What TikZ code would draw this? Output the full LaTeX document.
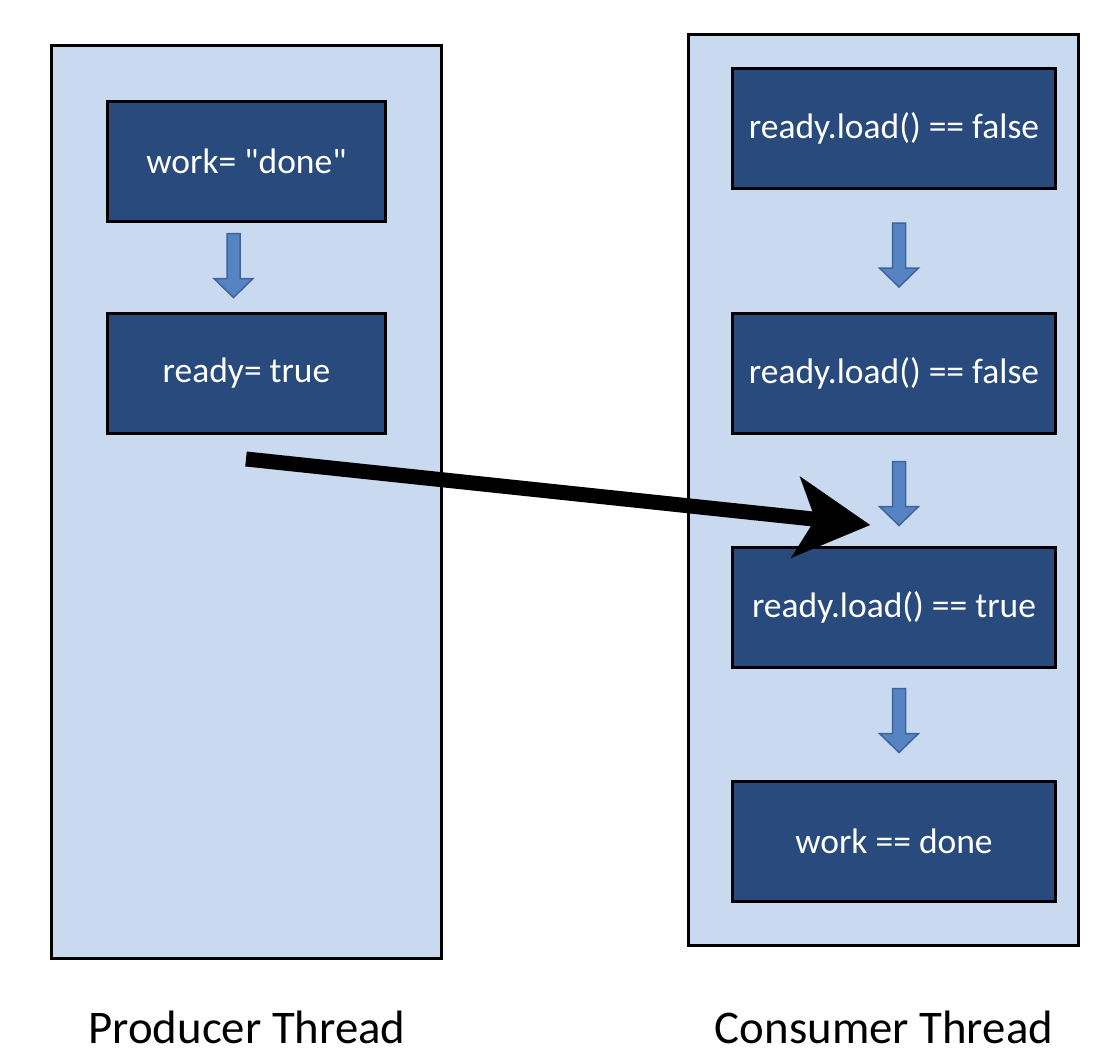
\documentclass[tikz,border=0pt]{standalone}
\usepackage{fontspec}
\setmainfont{Carlito}[Ligatures=TeXOff]
\usetikzlibrary{arrows.meta,calc}
\definecolor{panelfill}{RGB}{201,217,239}
\definecolor{boxfill}{RGB}{41,74,124}
\definecolor{arrfill}{RGB}{86,131,194}
\definecolor{arrdraw}{RGB}{62,100,158}
\tikzset{
  panel/.style={draw=black, line width=3pt, fill=panelfill, minimum width=390pt, inner sep=0pt},
  stepbox/.style={draw=black, line width=3pt, fill=boxfill, text=white, minimum height=120pt, inner sep=0pt, font=\fontsize{35.5}{40}\selectfont},
  caption/.style={anchor=base, font=\fontsize{46.8}{52}\selectfont, text=black},
  downarr/.pic={\filldraw[fill=arrfill, draw=arrdraw, line width=1.5pt]
      (-6.5,-32) -- (6.5,-32) -- (6.5,13) -- (19.5,13) -- (0,32) -- (-19.5,13) -- (-6.5,13) -- cycle;},
  bigarrow/.style={draw=black, line width=15pt, -{Stealth[length=75pt,width=82pt,inset=20pt,line width=0.01pt]}}
}
\begin{document}
\begin{tikzpicture}[x=1pt,y=-1pt]
\useasboundingbox (0,0) rectangle (1118,1062);
\fill[white] (0,0) rectangle (1118,1062);
% panels
\node[panel, minimum height=913pt] (prod) at (246.5,502) {};
\node[panel, minimum height=911pt] (cons) at (883.5,490) {};
% producer boxes
\node[stepbox, minimum width=278pt] (w) at (246.5,161.5) {work= "done"};
\node[stepbox, minimum width=278pt] (r) at (246.5,373.5) {ready= true};
% consumer boxes
\node[stepbox, minimum width=323pt] (c1) at (894,128.5) {ready.load() == false};
\node[stepbox, minimum width=323pt] (c2) at (894,373.5) {ready.load() == false};
\node[stepbox, minimum width=323pt] (c3) at (894,607.5) {ready.load() == true};
\node[stepbox, minimum width=323pt] (c4) at (894,841.5) {work == done};
% block arrows
\pic at ($($(w.south)!0.5!(r.north)$)+(-13,-2)$) {downarr};
\pic at ($($(c1.south)!0.5!(c2.north)$)+(5,4)$) {downarr};
\pic at ($($(c2.south)!0.5!(c3.north)$)+(5,3)$) {downarr};
\pic at ($($(c3.south)!0.5!(c4.north)$)+(5,-4)$) {downarr};
% big arrow
\coordinate (from) at (246,459);
\coordinate (to) at (870,525);
\draw[bigarrow] (from) -- (to);
% captions
\node[caption] (pl) at (247,1043) {Producer Thread};
\node[caption] (cl) at (884,1043) {Consumer Thread};
\end{tikzpicture}
\end{document}
